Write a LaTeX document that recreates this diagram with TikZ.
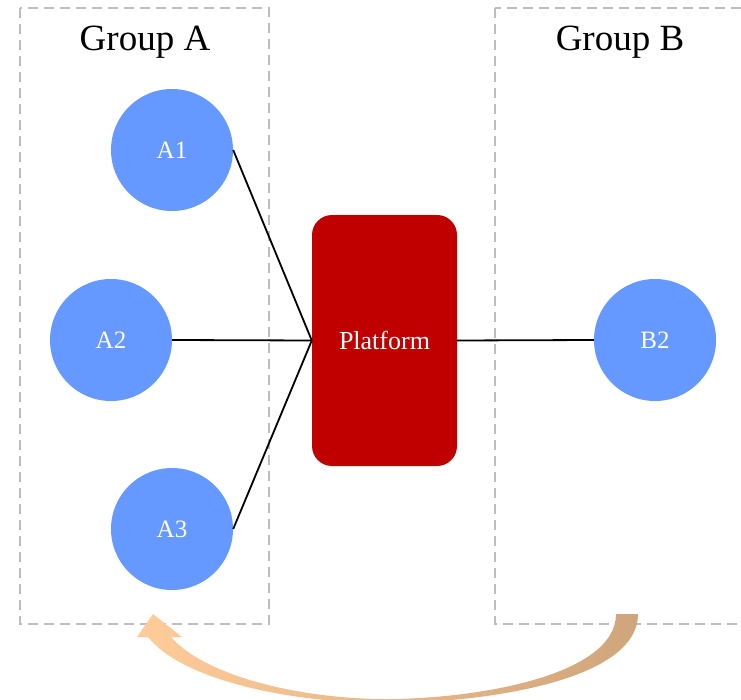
\documentclass[tikz,border=0pt]{standalone}
\usepackage{fontspec}
\setmainfont{Liberation Serif}
\definecolor{nodeblue}{HTML}{6699FF}
\definecolor{platred}{HTML}{C00000}
\definecolor{boxgray}{HTML}{BDBDBD}
\definecolor{peach}{HTML}{FFCC99}
\definecolor{tan}{HTML}{CFA57B}
\begin{document}
\begin{tikzpicture}[x=1pt,y=-1pt,
  groupbox/.style={draw=boxgray, line width=2.2pt, dash pattern=on 10pt off 6pt},
  grouplabel/.style={font=\fontsize{37}{40}\selectfont, text=black},
  member/.style={circle, fill=nodeblue, minimum size=122pt, inner sep=0pt, text=white, font=\fontsize{25}{27}\selectfont},
  platform/.style={rectangle, rounded corners=20pt, fill=platred, minimum width=145pt, minimum height=251pt, inner sep=0pt, text=white, font=\fontsize{26}{28}\selectfont},
  link/.style={draw=black, line width=1.8pt}]
\useasboundingbox (0,0) rectangle (741,700);
\clip (0,0) rectangle (741,700);
% group boxes
\draw[groupbox] (20,8) rectangle (269,624);
\draw[groupbox] (495,8) rectangle (770,624);
\node[grouplabel] (ga) at (145,42) {Group A};
\node[grouplabel] (gb) at (620,42) {Group B};
% nodes
\node[member] (a1) at (172,150) {A1};
\node[member] (a2) at (111,340) {A2};
\node[member] (a3) at (172,529) {A3};
\node[member] (b2) at (655,340) {B2};
\node[platform] (p) at (384.5,340.5) {Platform};
% links
\draw[link] (a1.east) -- (p.west);
\draw[link] (a2.east) -- (p.west);
\draw[link] (a3.east) -- (p.west);
\draw[link] (p.east) -- (b2.west);
% curved feedback arrow
\coordinate (arrstart) at (627,615);
\coordinate (arrtip) at (153,614);
\shade[left color=peach, right color=tan, shading angle=90]
  (638,614) .. controls (638,682) and (480,703) .. (386,703)
  .. controls (290,703) and (182,680) .. (148,637)
  -- (137,637) -- (arrtip) -- (182,637) -- (171,637)
  .. controls (205,676) and (300,699) .. (386,699)
  .. controls (475,699) and (616,676) .. (616,614) -- cycle;
\end{tikzpicture}
\end{document}
